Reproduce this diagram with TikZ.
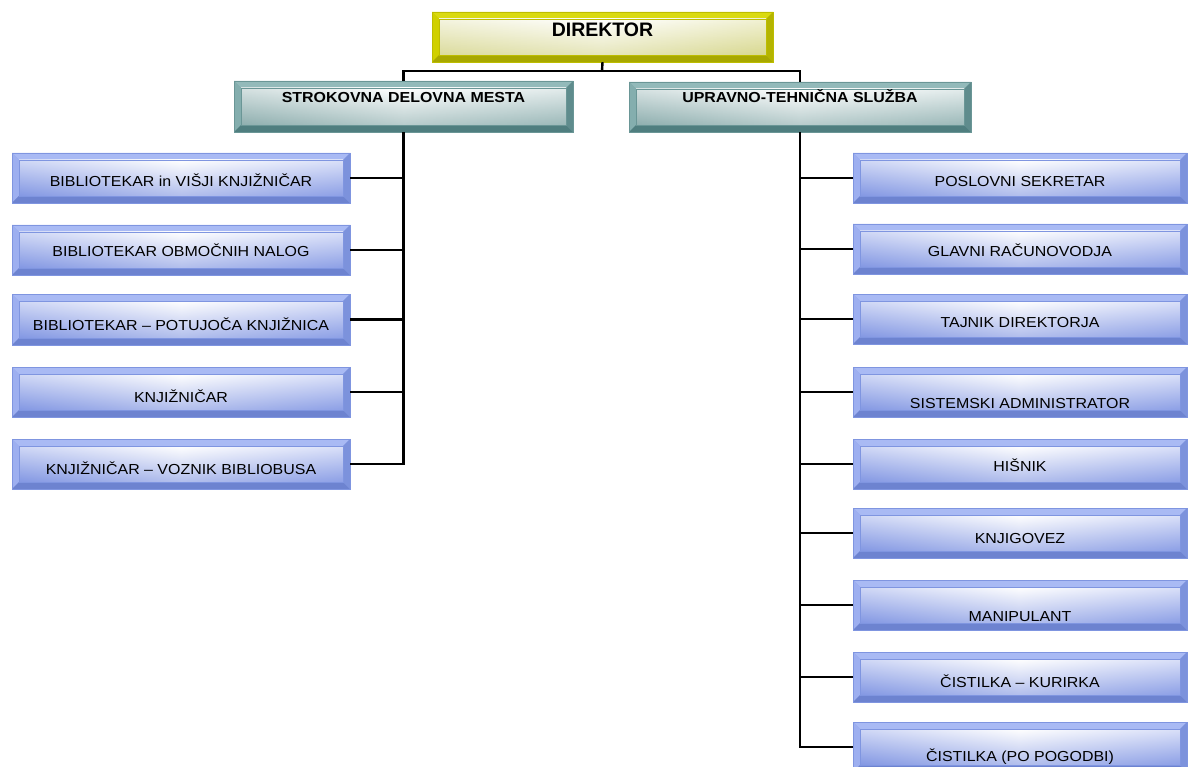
\documentclass[tikz,border=0pt]{standalone}
\usepackage{fontspec}
\setmainfont{Liberation Sans}[FakeStretch=1.1]
\newfontfamily\dirfont{Liberation Sans}
\usetikzlibrary{fit,calc}
% blue scheme
\definecolor{blmid}{HTML}{8EA2E8}
\definecolor{blline}{HTML}{7F95E0}
\definecolor{bltop}{HTML}{A9BAF4}
\definecolor{blleft}{HTML}{9DAFF0}
\definecolor{blbot}{HTML}{6D83D0}
\definecolor{blright}{HTML}{7C92DC}
\definecolor{bla}{HTML}{8A9EE8}
\definecolor{blb}{HTML}{A2B2EF}
\definecolor{blc}{HTML}{7E93E0}
% teal scheme
\definecolor{tlmid}{HTML}{79A5A5}
\definecolor{tlline}{HTML}{6A9696}
\definecolor{tltop}{HTML}{93BABA}
\definecolor{tlleft}{HTML}{84AEAE}
\definecolor{tlbot}{HTML}{4F7E7F}
\definecolor{tlright}{HTML}{5F8C8D}
\definecolor{tla}{HTML}{98B6B6}
\definecolor{tlb}{HTML}{B9CFCF}
\definecolor{tlc}{HTML}{88AAAA}
% yellow scheme
\definecolor{ylmid}{HTML}{CCCC00}
\definecolor{ylline}{HTML}{BDBD00}
\definecolor{yltop}{HTML}{DADA10}
\definecolor{ylleft}{HTML}{D0D000}
\definecolor{ylbot}{HTML}{A8A800}
\definecolor{ylright}{HTML}{B4B400}
\definecolor{yla}{HTML}{E4E4B0}
\definecolor{ylb}{HTML}{DCDC90}
\definecolor{ylc}{HTML}{D6D690}
\tikzset{
  conn/.style={line width=2.4pt, black},
  lab/.style={font=\fontsize{14.5}{17}\selectfont, anchor=base, inner sep=0pt, text=black},
  hlab/.style={font=\bfseries\fontsize{14.5}{17}\selectfont, anchor=base, inner sep=0pt, text=black},
  dlab/.style={font=\dirfont\bfseries\fontsize{19.5}{22}\selectfont, anchor=base, inner sep=0pt, text=black},
}
% #1 name, #2 x1, #3 y1, #4 x2, #5 y2, #6 scheme, #7 baseline y, #8 text style, #9 text
\newcommand{\bevbox}[9]{%
  \node[fit={(#2,#3)(#4,#5)}, inner sep=0pt, fill=#6mid] (#1) {};
  \fill[#6top] (#2,#3) -- (#4,#3) -- ({#4-7},{#3+7}) -- ({#2+7},{#3+7}) -- cycle;
  \fill[#6left] (#2,#3) -- ({#2+7},{#3+7}) -- ({#2+7},{#5-7}) -- (#2,#5) -- cycle;
  \fill[#6bot] (#2,#5) -- ({#2+7},{#5-7}) -- ({#4-7},{#5-7}) -- (#4,#5) -- cycle;
  \fill[#6right] (#4,#3) -- (#4,#5) -- ({#4-7},{#5-7}) -- ({#4-7},{#3+7}) -- cycle;
  \shade[left color=#6a, right color=#6b, middle color=white] ({#2+7},{#3+7}) rectangle ({#4-7},{#5-7});
  \shade[top color=white, bottom color=#6c, opacity=0.6] ({#2+7},{#3+7}) rectangle ({#4-7},{#5-7});
  \draw[#6line, line width=0.6pt] ({#2+7},{#3+7}) rectangle ({#4-7},{#5-7});
  \draw[#6line, line width=0.8pt] (#2,#3) rectangle (#4,#5);
  \node[#8] (#1-t) at ({(#2+#4)/2},#7) {#9};
}
\begin{document}
\begin{tikzpicture}[x=1pt, y=-1pt]
\useasboundingbox (0,0) rectangle (1188,767);
\fill[white] (0,0) rectangle (1188,767);

% top level
\bevbox{dir}{432}{12}{773}{62}{yl}{37}{dlab}{DIREKTOR}
\bevbox{sdm}{234}{81}{573}{132}{tl}{103}{hlab}{STROKOVNA DELOVNA MESTA}
\bevbox{uts}{629}{82}{971}{132}{tl}{103}{hlab}{UPRAVNO-TEHNIČNA SLUŽBA}

% left column
\bevbox{l1}{12}{153}{350}{203}{bl}{187}{lab}{BIBLIOTEKAR in VIŠJI KNJIŽNIČAR}
\bevbox{l2}{12}{225}{350}{275}{bl}{257}{lab}{BIBLIOTEKAR OBMOČNIH NALOG}
\bevbox{l3}{12}{294}{350}{345}{bl}{330}{lab}{BIBLIOTEKAR – POTUJOČA KNJIŽNICA}
\bevbox{l4}{12}{367}{350}{417}{bl}{402}{lab}{KNJIŽNIČAR}
\bevbox{l5}{12}{439}{350}{489}{bl}{474}{lab}{KNJIŽNIČAR – VOZNIK BIBLIOBUSA}

% right column
\bevbox{r1}{853}{153}{1187}{203}{bl}{187}{lab}{POSLOVNI SEKRETAR}
\bevbox{r2}{853}{224}{1187}{274}{bl}{257}{lab}{GLAVNI RAČUNOVODJA}
\bevbox{r3}{853}{294}{1187}{344}{bl}{327}{lab}{TAJNIK DIREKTORJA}
\bevbox{r4}{853}{367}{1187}{417}{bl}{408}{lab}{SISTEMSKI ADMINISTRATOR}
\bevbox{r5}{853}{439}{1187}{489}{bl}{471}{lab}{HIŠNIK}
\bevbox{r6}{853}{508}{1187}{558}{bl}{543}{lab}{KNJIGOVEZ}
\bevbox{r7}{853}{580}{1187}{630}{bl}{621}{lab}{MANIPULANT}
\bevbox{r8}{853}{652}{1187}{702}{bl}{687}{lab}{ČISTILKA – KURIRKA}
\bevbox{r9}{853}{722}{1187}{772}{bl}{761}{lab}{ČISTILKA (PO POGODBI)}

% connectors
\coordinate (hub) at (602,71);
\draw[conn] (dir.south) -- (hub);
\draw[conn] (sdm.north) |- (hub) -| (uts.north);
\draw[conn] (sdm.south) |- (l5.east);
\foreach \n in {l1,l2,l3,l4} {\draw[conn] (\n.east) -- (\n.east -| sdm.south);}
\draw[conn] (uts.south) |- (r9.west);
\foreach \n in {r1,r2,r3,r4,r5,r6,r7,r8} {\draw[conn] (\n.west) -- (\n.west -| uts.south);}
\end{tikzpicture}
\end{document}
